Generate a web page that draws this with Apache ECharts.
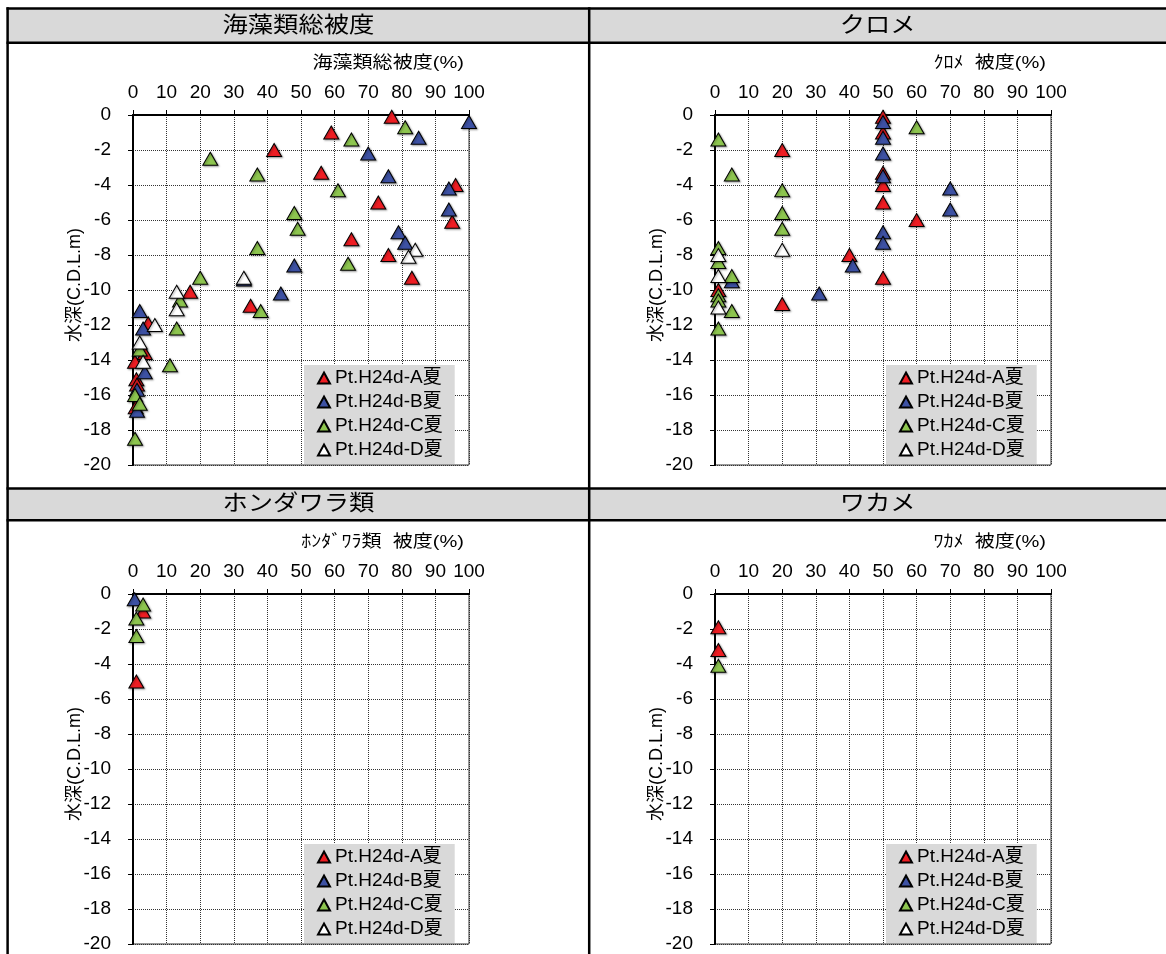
<!DOCTYPE html>
<html><head><meta charset="utf-8">
<script src="https://cdn.jsdelivr.net/npm/echarts@6/dist/echarts.min.js"></script>
<style>html,body{margin:0;padding:0;background:#fff}#c{width:1166px;height:954px}</style>
</head><body><div id="c"></div><script>
// ---- labels ----
const seriesNames = ['Pt.H24d-A夏', 'Pt.H24d-B夏', 'Pt.H24d-C夏', 'Pt.H24d-D夏'];
const panelTitles = ['海藻類総被度', 'クロメ', 'ホンダワラ類', 'ワカメ'];
const xAxisNames = ['海藻類総被度(%)', 'ｸﾛﾒ  被度(%)', 'ﾎﾝﾀﾞﾜﾗ類  被度(%)', 'ﾜｶﾒ  被度(%)'];
const yAxisName = '水深(C.D.L.m)';
const xTickMin = 0, xTickMax = 100, xTickStep = 10;
const yTickMin = -20, yTickMax = 0, yTickStep = 2;

// ---- data: [cover %, depth m] ----
const totalA = [[77,-0.1],[59,-1.0],[42,-2.0],[56,-3.3],[96,-4.0],[73,-5.0],[95,-6.1],[65,-7.1],[76,-8.0],[83,-9.3],[17,-10.1],[35,-10.9],[4.5,-11.9],[3.5,-13.6],[0.6,-14.1],[1,-15.1],[1.2,-15.4],[0.8,-16.7]];
const totalB = [[100,-0.4],[85,-1.3],[70,-2.2],[76,-3.5],[94,-4.2],[94,-5.4],[79,-6.7],[81,-7.3],[48,-8.6],[33,-9.4],[44,-10.2],[2,-11.2],[3,-12.2],[3.5,-14.7],[1.2,-15.7],[1.2,-16.9]];
const totalC = [[81,-0.7],[65,-1.4],[23,-2.5],[37,-3.4],[61,-4.3],[48,-5.6],[49,-6.5],[37,-7.6],[64,-8.5],[20,-9.3],[14,-10.6],[38,-11.2],[13,-12.2],[2,-13.4],[11,-14.3],[0.6,-16.0],[2,-16.5],[0.6,-18.5]];
const totalD = [[84,-7.7],[82,-8.1],[33,-9.3],[13,-10.1],[13,-11.1],[6.5,-12.0],[2,-13.0],[3,-14.1]];

const kuromeA = [[50,-0.1],[50,-1.0],[20,-2.0],[50,-3.3],[50,-4.0],[50,-5.0],[60,-6.0],[40,-8.0],[50,-9.3],[1,-10.0],[20,-10.8]];
const kuromeB = [[50,-0.4],[50,-1.3],[50,-2.2],[50,-3.5],[70,-4.2],[70,-5.4],[50,-6.7],[50,-7.3],[41,-8.6],[5,-9.5],[31,-10.2]];
const kuromeC = [[60,-0.7],[1,-1.4],[5,-3.4],[20,-4.3],[20,-5.6],[20,-6.5],[1,-7.6],[1,-8.4],[5,-9.2],[1,-10.3],[1,-10.6],[5,-11.2],[1,-12.2]];
const kuromeD = [[20,-7.7],[1,-8.0],[1,-9.2],[1,-11.0]];

const hondawaraA = [[3,-1.0],[1,-5.0]];
const hondawaraB = [[0.5,-0.3]];
const hondawaraC = [[3,-0.6],[1,-1.4],[1,-2.4]];
const hondawaraD = [];

const wakameA = [[1,-1.9],[1,-3.2]];
const wakameB = [];
const wakameC = [[1,-4.1]];
const wakameD = [];

const panelData = [
  [totalA, totalB, totalC, totalD],
  [kuromeA, kuromeB, kuromeC, kuromeD],
  [hondawaraA, hondawaraB, hondawaraC, hondawaraD],
  [wakameA, wakameB, wakameC, wakameD]
];

// ---- styling / layout ----
const colors = ['#ee1d23', '#3d51a3', '#8dc54f', '#ffffff'];
const FONT = "'Liberation Sans', 'Noto Sans CJK JP', sans-serif";
const gridLefts = [133, 715];
const gridTops = [115, 594];
const GW = 336, GH = 350;

const chart = echarts.init(document.getElementById('c'), null, {renderer: 'canvas'});

const grids = [], xAxes = [], yAxes = [], series = [], legends = [], graphics = [];

// panel frames
graphics.push({type:'rect', shape:{x:7, y:8.5, width:1166, height:34}, style:{fill:'#d9d9d9'}, z:-10});
graphics.push({type:'rect', shape:{x:7, y:488.5, width:1166, height:32}, style:{fill:'#d9d9d9'}, z:-10});
const hLines = [8.5, 42.7, 488.5, 520.2];
hLines.forEach(y => graphics.push({type:'line', shape:{x1:6.5, y1:y, x2:1166, y2:y}, style:{stroke:'#000', lineWidth:2.5}, z:10}));
[7.6, 589.2].forEach(x => graphics.push({type:'line', shape:{x1:x, y1:7.3, x2:x, y2:954}, style:{stroke:'#000', lineWidth:2.5}, z:10}));

for (let i = 0; i < 4; i++) {
  const col = i % 2, row = Math.floor(i / 2);
  const left = gridLefts[col], top = gridTops[row];
  const panelLeft = col === 0 ? 7.6 : 589.2;
  const panelRight = col === 0 ? 589.2 : 1166;
  const headerMid = row === 0 ? 25.7 : 504.3;
  graphics.push({type:'text', x:(panelLeft + panelRight) / 2, y:headerMid, scaleX:1.15,
    style:{text:panelTitles[i], fontSize:22, fontFamily:FONT, fill:'#000', align:'center', verticalAlign:'middle'}, z:11});
  graphics.push({type:'text', x:left + GW - 5, y:top - 52, scaleX:1.18,
    style:{text:xAxisNames[i], fontSize:17, fontFamily:FONT, fill:'#000', align:'right', verticalAlign:'middle'}, z:11});
  graphics.push({type:'text', x:left - 58, y:top + GH / 2 - 5, rotation:Math.PI / 2,
    style:{text:yAxisName, fontSize:18, fontFamily:FONT, fill:'#000', align:'center', verticalAlign:'middle'}, z:11});

  grids.push({left:left, top:top, width:GW, height:GH, show:true, borderColor:'#333', borderWidth:1, backgroundColor:'transparent'});
  xAxes.push({
    gridIndex:i, type:'value', position:'top', min:xTickMin, max:xTickMax, interval:xTickStep,
    axisLine:{show:true, onZero:false, lineStyle:{color:'#000', width:2}},
    axisTick:{show:true, inside:false, length:5, lineStyle:{color:'#000', width:1}},
    axisLabel:{show:true, margin:13, fontSize:19, fontFamily:FONT, color:'#000'},
    splitLine:{show:true, lineStyle:{color:'#333', width:1, type:[1,1]}}
  });
  yAxes.push({
    gridIndex:i, type:'value', min:yTickMin, max:yTickMax, interval:yTickStep,
    axisLine:{show:true, onZero:false, lineStyle:{color:'#000', width:2}},
    axisTick:{show:true, inside:false, length:5, lineStyle:{color:'#000', width:1}},
    axisLabel:{show:true, margin:22, fontSize:19, fontFamily:FONT, color:'#000'},
    splitLine:{show:true, lineStyle:{color:'#333', width:1, type:[1,1]}}
  });
  for (let s = 0; s < 4; s++) {
    series.push({
      type:'scatter', name:seriesNames[s], xAxisIndex:i, yAxisIndex:i,
      data:panelData[i][s], symbol:'triangle', symbolSize:[15,13], clip:false,
      itemStyle:{color:colors[s], borderColor:'#000', borderWidth:1,
        shadowColor:'rgba(0,0,0,0.35)', shadowBlur:2, shadowOffsetX:1, shadowOffsetY:1, opacity:1},
      emphasis:{disabled:true}
    });
  }
  legends.push({
    show:true, orient:'vertical', left:left + 171, top:top + 250,
    data:seriesNames.slice(), selectedMode:false,
    backgroundColor:'#d9d9d9', padding:[3,12,4,13], itemGap:4, itemWidth:12, itemHeight:11,
    textStyle:{fontSize:19, lineHeight:20, fontFamily:FONT, color:'#000'}
  });
}

chart.setOption({
  animation:false,
  backgroundColor:'#fff',
  grid:grids, xAxis:xAxes, yAxis:yAxes, series:series, legend:legends,
  graphic:graphics
});
</script></body></html>
